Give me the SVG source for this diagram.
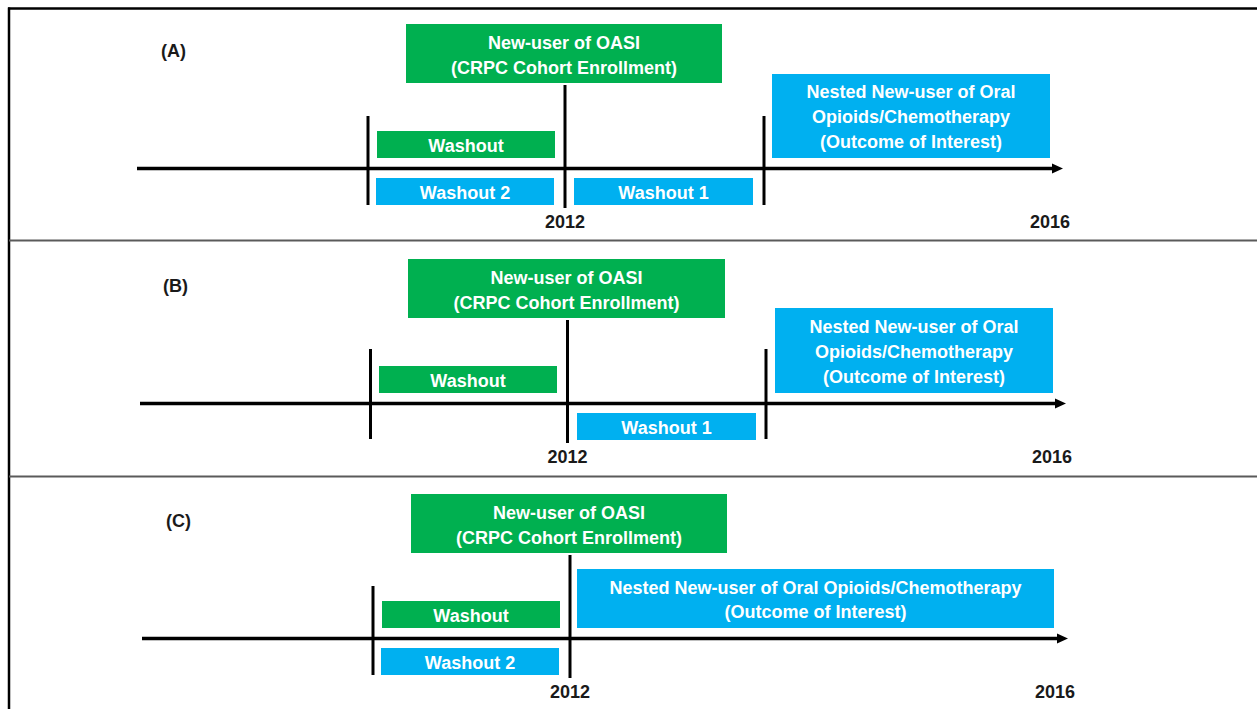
<svg xmlns="http://www.w3.org/2000/svg" width="1257" height="709" viewBox="0 0 1257 709">
<style>
  .bg { fill: #ffffff; }
  .frame { stroke: #000000; stroke-width: 2.5; fill: none; }
  .divider { stroke: #5a5a5a; stroke-width: 2; fill: none; }
  .green { fill: #00B050; }
  .blue { fill: #00B0F0; }
  .box-text { font-family: "Liberation Sans", Arial, sans-serif; font-weight: bold; font-size: 18px; fill: #ffffff; text-anchor: middle; }
  .panel-label { font-family: "Liberation Sans", Arial, sans-serif; font-weight: bold; font-size: 18px; fill: #1a1a1a; }
  .year { font-family: "Liberation Sans", Arial, sans-serif; font-weight: bold; font-size: 18px; fill: #1a1a1a; text-anchor: middle; }
  .axis { stroke: #000000; stroke-width: 3.5; fill: none; }
  .tick { stroke: #000000; stroke-width: 3; fill: none; }
</style>
<defs>
  <marker id="arrowhead" markerUnits="userSpaceOnUse" markerWidth="11" markerHeight="11" refX="0" refY="5.5" orient="auto">
    <path d="M0,0.5 L11,5.5 L0,10.5 z" fill="#000000"/>
  </marker>
</defs>

<rect class="bg" x="0" y="0" width="1257" height="709"/>

<g id="frame">
  <line class="frame" x1="8" y1="8.5" x2="1257" y2="8.5"/>
  <line class="frame" x1="9" y1="7.5" x2="9" y2="709"/>
  <line class="divider" x1="9" y1="240.5" x2="1257" y2="240.5"/>
  <line class="divider" x1="9" y1="476.5" x2="1257" y2="476.5"/>
</g>

<!-- Panel A -->
<g id="panelA">
  <text class="panel-label" x="161" y="57">(A)</text>
  <g id="A-enroll">
    <rect class="green" x="406" y="24" width="316" height="59"/>
    <text class="box-text" x="564" y="49">New-user of OASI</text>
    <text class="box-text" x="564" y="74">(CRPC Cohort Enrollment)</text>
  </g>
  <g id="A-washout">
    <rect class="green" x="377" y="131" width="178" height="27"/>
    <text class="box-text" x="466" y="151.5">Washout</text>
  </g>
  <g id="A-washout2">
    <rect class="blue" x="376" y="178" width="178" height="27"/>
    <text class="box-text" x="465" y="198.5">Washout 2</text>
  </g>
  <g id="A-washout1">
    <rect class="blue" x="574" y="178" width="179" height="27"/>
    <text class="box-text" x="663.5" y="198.5">Washout 1</text>
  </g>
  <g id="A-outcome">
    <rect class="blue" x="772" y="74" width="278" height="84"/>
    <text class="box-text" x="911" y="98">Nested New-user of Oral</text>
    <text class="box-text" x="911" y="123">Opioids/Chemotherapy</text>
    <text class="box-text" x="911" y="148">(Outcome of Interest)</text>
  </g>
  <text class="year" x="565" y="228">2012</text>
  <text class="year" x="1050" y="228">2016</text>
</g>

<!-- Panel B -->
<g id="panelB">
  <text class="panel-label" x="163" y="292">(B)</text>
  <g id="B-enroll">
    <rect class="green" x="408" y="259" width="317" height="59"/>
    <text class="box-text" x="566.5" y="284">New-user of OASI</text>
    <text class="box-text" x="566.5" y="309">(CRPC Cohort Enrollment)</text>
  </g>
  <g id="B-washout">
    <rect class="green" x="379" y="366" width="178" height="27"/>
    <text class="box-text" x="468" y="386.5">Washout</text>
  </g>
  <g id="B-washout1">
    <rect class="blue" x="577" y="413" width="179" height="27"/>
    <text class="box-text" x="666.5" y="433.5">Washout 1</text>
  </g>
  <g id="B-outcome">
    <rect class="blue" x="775" y="308" width="278" height="85"/>
    <text class="box-text" x="914" y="333">Nested New-user of Oral</text>
    <text class="box-text" x="914" y="358">Opioids/Chemotherapy</text>
    <text class="box-text" x="914" y="383">(Outcome of Interest)</text>
  </g>
  <text class="year" x="567.5" y="463">2012</text>
  <text class="year" x="1052" y="463">2016</text>
</g>

<!-- Panel C -->
<g id="panelC">
  <text class="panel-label" x="166" y="527">(C)</text>
  <g id="C-enroll">
    <rect class="green" x="411" y="494" width="316" height="59"/>
    <text class="box-text" x="569" y="519">New-user of OASI</text>
    <text class="box-text" x="569" y="544">(CRPC Cohort Enrollment)</text>
  </g>
  <g id="C-washout">
    <rect class="green" x="382" y="601" width="178" height="27"/>
    <text class="box-text" x="471" y="621.5">Washout</text>
  </g>
  <g id="C-washout2">
    <rect class="blue" x="381" y="648" width="178" height="27"/>
    <text class="box-text" x="470" y="668.5">Washout 2</text>
  </g>
  <g id="C-outcome">
    <rect class="blue" x="577" y="569" width="477" height="59"/>
    <text class="box-text" x="815.5" y="593.5">Nested New-user of Oral Opioids/Chemotherapy</text>
    <text class="box-text" x="815.5" y="617.5">(Outcome of Interest)</text>
  </g>
  <text class="year" x="570" y="698">2012</text>
  <text class="year" x="1055" y="698">2016</text>
</g>

<!-- Timelines: axes and tick marks -->
<g id="connectors">
  <line class="axis" x1="137" y1="168.5" x2="1052" y2="168.5" marker-end="url(#arrowhead)"/>
  <line class="tick" x1="368" y1="116" x2="368" y2="205"/>
  <line class="tick" x1="565" y1="85" x2="565" y2="208"/>
  <line class="tick" x1="764" y1="116" x2="764" y2="205"/>

  <line class="axis" x1="140" y1="403.5" x2="1055" y2="403.5" marker-end="url(#arrowhead)"/>
  <line class="tick" x1="370.5" y1="349" x2="370.5" y2="439"/>
  <line class="tick" x1="567.5" y1="320" x2="567.5" y2="443"/>
  <line class="tick" x1="766" y1="349" x2="766" y2="439"/>

  <line class="axis" x1="142" y1="638.5" x2="1057" y2="638.5" marker-end="url(#arrowhead)"/>
  <line class="tick" x1="373" y1="586" x2="373" y2="675"/>
  <line class="tick" x1="570" y1="555" x2="570" y2="678"/>
</g>
</svg>
